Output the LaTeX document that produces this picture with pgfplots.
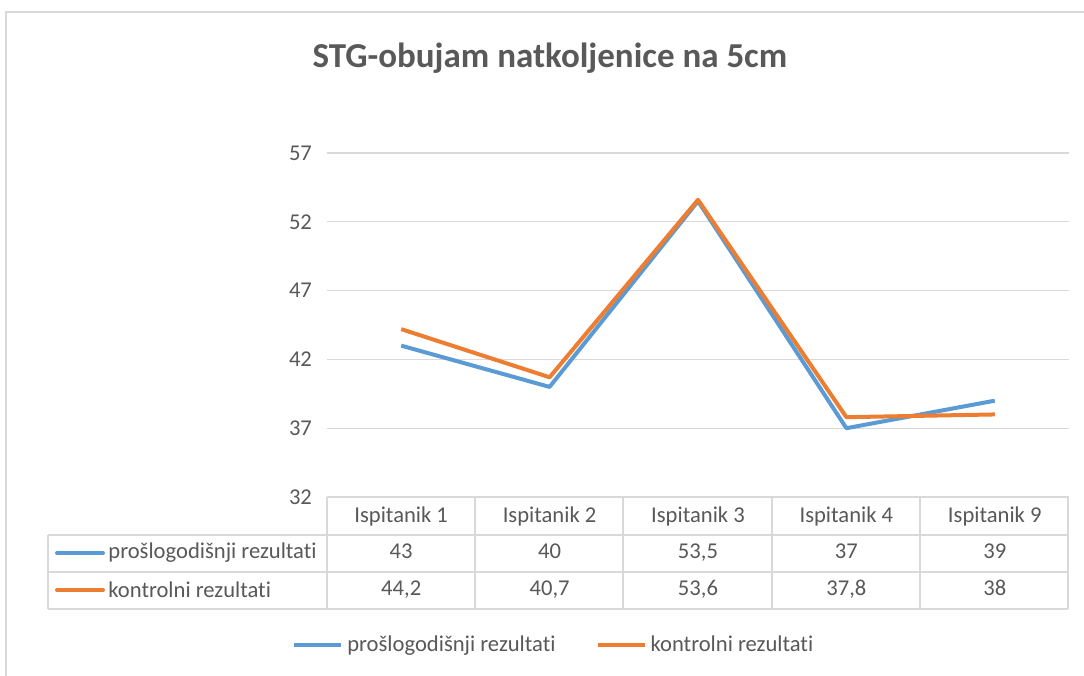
\documentclass[border=0pt]{standalone}
\usepackage{fontspec}
\setmainfont{Carlito}[Ligatures=NoCommon]
\usepackage{pgfplots}
\pgfplotsset{compat=1.18}
\definecolor{xlBlue}{HTML}{5B9BD5}
\definecolor{xlOrange}{HTML}{ED7D31}
\definecolor{xlText}{HTML}{595959}
\definecolor{xlGrid}{HTML}{D9D9D9}
\newcommand{\lblfont}{\fontsize{11.3}{13.5}\selectfont}

\begin{document}
\begin{tikzpicture}
% canvas in pixel units (1px = 0.5pt), y measured from the bottom
\begin{scope}[x=0.5pt,y=0.5pt]
\path[use as bounding box, fill=white] (0,0) rectangle (1084,676);
\draw[xlGrid, line width=1pt] (6,0) -- (6,664) -- (1084,664);
\node[font=\fontsize{17.5}{21}\selectfont\bfseries, text=xlText] at (550,618) {STG-obujam natkoljenice na 5cm};
\end{scope}

\begin{axis}[
    at={(163.5pt,89.5pt)}, anchor=south west,
    scale only axis, width=371pt, height=172pt,
    xmin=-0.5, xmax=4.5, ymin=32, ymax=57,
    ytick={32,37,42,47,52,57},
    xtick={0,1,2,3,4},
    xticklabels={Ispitanik 1, Ispitanik 2, Ispitanik 3, Ispitanik 4, Ispitanik 9},
    xticklabel style={anchor=center, yshift=-9.5pt},
    yticklabel style={xshift=-4pt},
    major tick length=0pt,
    axis line style={draw=none},
    ymajorgrids, major grid style={xlGrid, line width=0.6pt},
    tick label style={font=\lblfont, text=xlText},
    /pgf/number format/assume math mode=true,
    clip=false,
    legend columns=2,
    legend style={draw=none, at={(0.307,-0.43)}, anchor=center,
        font=\lblfont, text=xlText,
        /tikz/every even column/.append style={column sep=18pt}},
    legend image code/.code={\draw[#1] (0pt,0pt) -- (23.5pt,0pt);},
]
\addplot[xlBlue, line width=2pt, line join=round] coordinates {
    (0,43) (1,40) (2,53.5) (3,37) (4,39)
};
\addlegendentry{prošlogodišnji rezultati}
\addplot[xlOrange, line width=2pt, line join=round] coordinates {
    (0,44.2) (1,40.7) (2,53.6) (3,37.8) (4,38)
};
\addlegendentry{kontrolni rezultati}

% data table values
\begin{scope}[every node/.style={font=\lblfont, text=xlText, text height=1.6ex, text depth=0.4ex}]
\node at (axis cs:0,27.93) {43};
\node at (axis cs:1,27.93) {40};
\node at (axis cs:2,27.93) {53,5};
\node at (axis cs:3,27.93) {37};
\node at (axis cs:4,27.93) {39};
\node at (axis cs:0,25.24) {44,2};
\node at (axis cs:1,25.24) {40,7};
\node at (axis cs:2,25.24) {53,6};
\node at (axis cs:3,25.24) {37,8};
\node at (axis cs:4,25.24) {38};
\end{scope}
\end{axis}

\begin{scope}[x=0.5pt,y=0.5pt]
% data table grid
\begin{scope}[xlGrid, line width=0.6pt]
\draw (327,179) -- (1068,179);
\draw (48,141) -- (1068,141);
\draw (48,104) -- (1068,104);
\draw (48,67) -- (1068,67);
\draw (48,141) -- (48,67);
\foreach \xx in {327,475,623,772,920,1068} \draw (\xx,179) -- (\xx,67);
\end{scope}
% row labels
\draw[xlBlue, line width=2pt, line cap=round] (57,123) -- (103,123);
\node[anchor=west, inner sep=0pt, font=\lblfont, text=xlText] at (108,123) {prošlogodišnji rezultati};
\draw[xlOrange, line width=2pt, line cap=round] (57,86) -- (103,86);
\node[anchor=west, inner sep=0pt, font=\lblfont, text=xlText] at (108,86) {kontrolni rezultati};
\end{scope}
\end{tikzpicture}
\end{document}
